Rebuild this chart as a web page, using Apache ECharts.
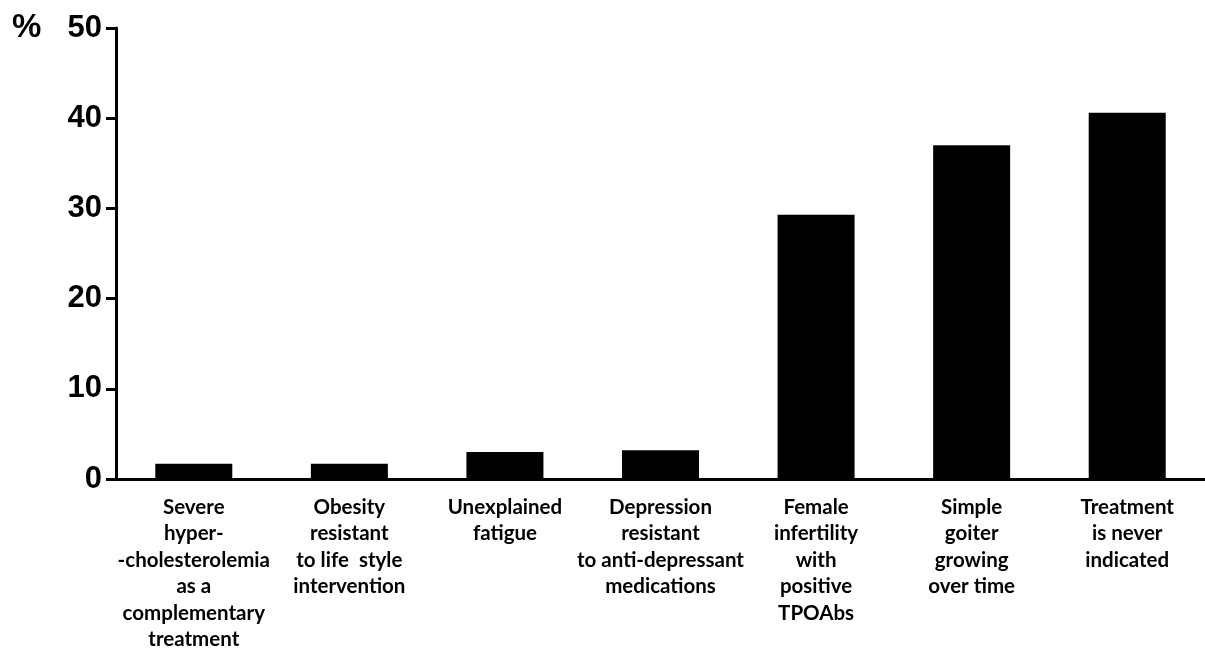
<!DOCTYPE html>
<html>
<head>
<meta charset="utf-8">
<script src="https://cdn.jsdelivr.net/npm/echarts@6/dist/echarts.min.js"></script>
<style>html,body{margin:0;padding:0;background:#fff;}#c{width:1205px;height:650px;}</style>
</head>
<body>
<div id="c"></div>
<script>
const categories = [
  "Severe\nhyper-\n-cholesterolemia\nas a\ncomplementary\ntreatment",
  "Obesity\nresistant\nto life  style\nintervention",
  "Unexplained\nfatigue",
  "Depression\nresistant\nto anti-depressant\nmedications",
  "Female\ninfertility\nwith\npositive\nTPOAbs",
  "Simple\ngoiter\ngrowing\nover time",
  "Treatment\nis never\nindicated"
];
const values = [1.7, 1.7, 3.0, 3.2, 29.3, 37.0, 40.6];
const yTicks = { min: 0, max: 50, interval: 10 };
const yUnit = "%";

const chart = echarts.init(document.getElementById('c'), null, { renderer: 'canvas' });
chart.setOption({
  backgroundColor: '#fff',
  animation: false,
  grid: { left: 116, right: 0, top: 28, bottom: 171, containLabel: false, outerBoundsMode: 'none' },
  graphic: [{
    type: 'text', left: 12, top: 11,
    style: { text: yUnit, font: 'bold 33px "Liberation Sans", Arial, sans-serif', fill: '#000' }
  }],
  xAxis: {
    type: 'category',
    data: categories,
    axisLine: { lineStyle: { color: '#000', width: 3 } },
    axisTick: { show: false },
    axisLabel: {
      interval: 0, margin: 15, color: '#000',
      fontFamily: 'Lato, "Open Sans", sans-serif', fontWeight: 'bold',
      fontSize: 20.5, lineHeight: 26.5, align: 'center'
    }
  },
  yAxis: {
    type: 'value',
    min: yTicks.min, max: yTicks.max, interval: yTicks.interval,
    splitLine: { show: false },
    axisLine: { show: true, lineStyle: { color: '#000', width: 3 } },
    axisTick: { show: true, length: 10, lineStyle: { color: '#000', width: 3 } },
    axisLabel: {
      margin: 14, color: '#000',
      fontFamily: '"Liberation Sans", Arial, sans-serif', fontWeight: 'bold', fontSize: 31
    }
  },
  series: [{
    type: 'bar',
    data: values,
    barWidth: '49.5%',
    itemStyle: { color: '#000' }
  }]
});
</script>
</body>
</html>
